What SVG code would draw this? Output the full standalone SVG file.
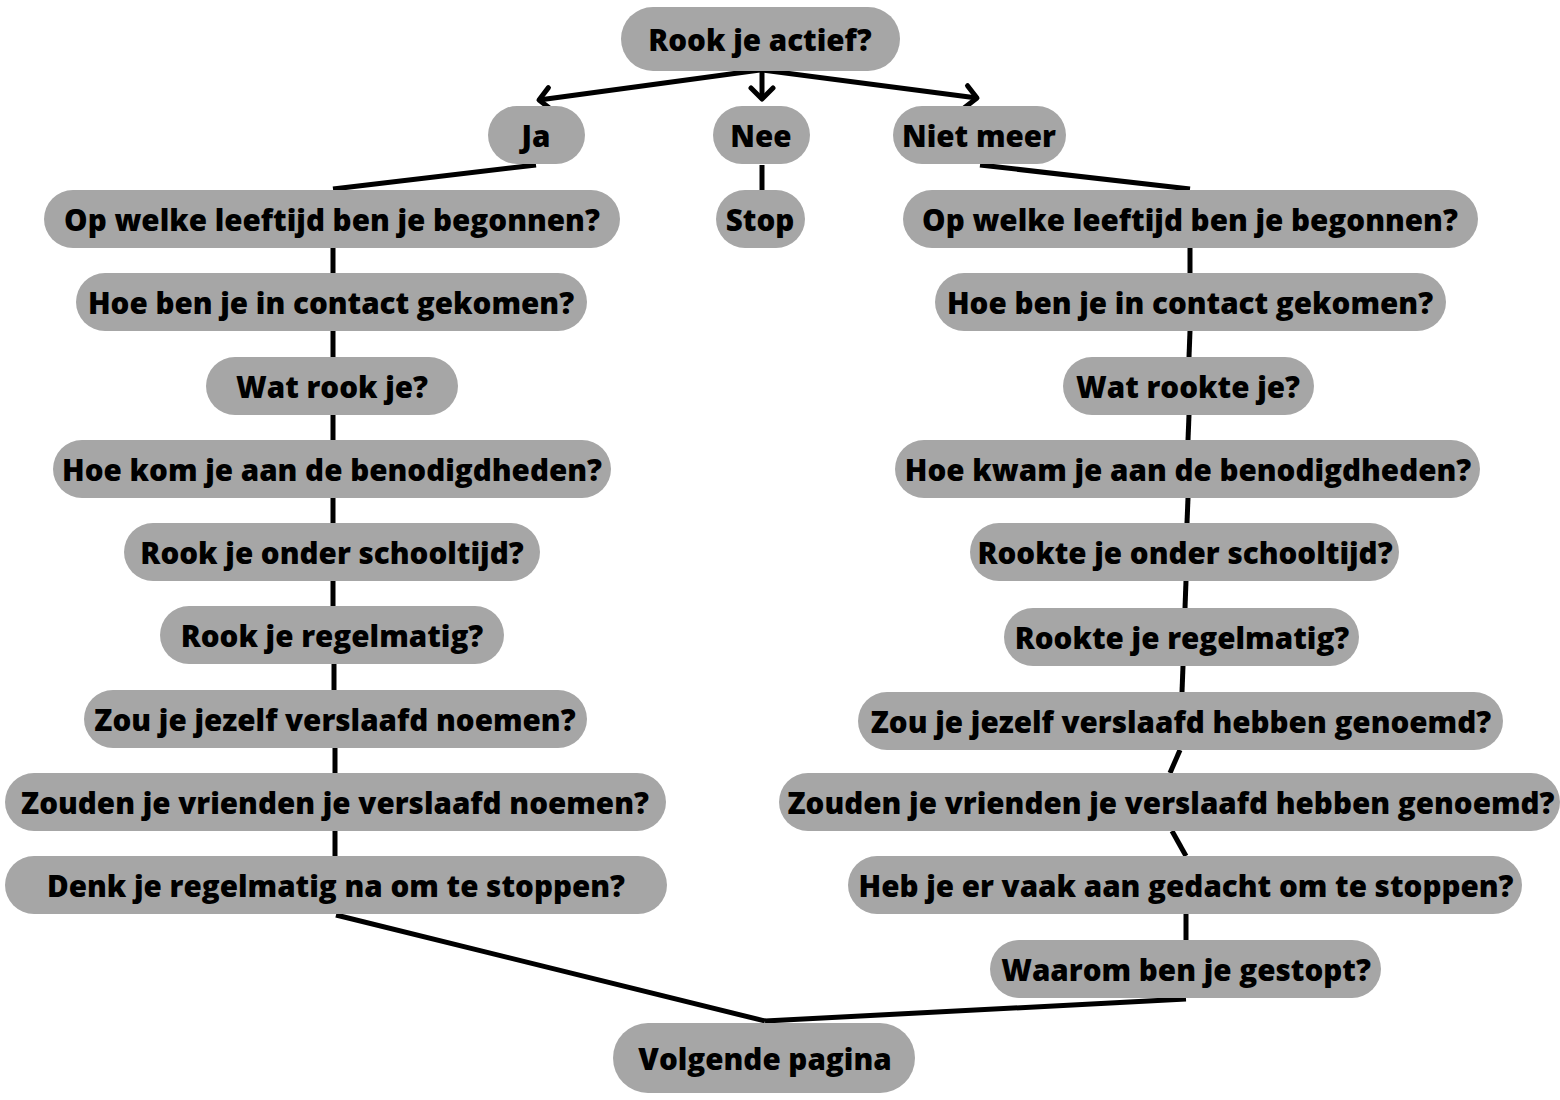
<svg xmlns="http://www.w3.org/2000/svg" width="1560" height="1100" viewBox="0 0 1560 1100">
<style>
.n rect{fill:#a6a6a6}
.n text{font-family:"Open Sans","DejaVu Sans",sans-serif;font-weight:800;font-size:29.6px;fill:#000;text-anchor:middle;dominant-baseline:central}
.c path{fill:none;stroke:#000;stroke-width:5;stroke-linecap:butt}
</style>
<defs>
<marker id="arr" viewBox="-15 -15 30 30" refX="0" refY="0" markerWidth="30" markerHeight="30" markerUnits="userSpaceOnUse" orient="auto"><path d="M-11,-11 L0,0 L-11,11" fill="none" stroke="#000" stroke-width="5" stroke-linecap="round" stroke-linejoin="round"/></marker>
</defs>
<rect width="1560" height="1100" fill="#fff"/>
<g class="c" id="connectors">
<path d="M760,70 L539,100" marker-end="url(#arr)"/>
<path d="M762,70 L762,99" marker-end="url(#arr)"/>
<path d="M762,70 L977,98" marker-end="url(#arr)"/>
<path d="M536,165 L333,189"/>
<path d="M762,165 L762,190"/>
<path d="M980,165 L1190,189"/>
<path d="M333,248 L333,273"/>
<path d="M333,331 L333,357"/>
<path d="M333,415 L333,440"/>
<path d="M333,498 L333,523"/>
<path d="M333,581 L333,606"/>
<path d="M334,664 L334,690"/>
<path d="M335,748 L335,773"/>
<path d="M335,831 L335,856"/>
<path d="M1190,248 L1190,273"/>
<path d="M1190,331 L1189,357"/>
<path d="M1189,415 L1188,440"/>
<path d="M1188,498 L1187,523"/>
<path d="M1186,581 L1185,608"/>
<path d="M1183,666 L1182,692"/>
<path d="M1180,750 L1170,773"/>
<path d="M1172,831 L1186,856"/>
<path d="M1186,914 L1186,940"/>
<path d="M336,915 L765,1021"/>
<path d="M1186,999 L765,1021"/>
</g>
<g class="n" id="n-rook"><rect x="621" y="7" width="279" height="64" rx="32"/><text x="760" y="39">Rook je actief?</text></g>
<g class="n" id="n-ja"><rect x="488" y="106" width="97" height="58" rx="29"/><text x="536" y="135">Ja</text></g>
<g class="n" id="n-nee"><rect x="713" y="106" width="97" height="58" rx="29"/><text x="761" y="135">Nee</text></g>
<g class="n" id="n-nietmeer"><rect x="893" y="106" width="173" height="58" rx="29"/><text x="979" y="135">Niet meer</text></g>
<g class="n" id="n-stop"><rect x="716" y="190" width="89" height="58" rx="29"/><text x="760" y="219">Stop</text></g>

<g class="n" id="l1"><rect x="44" y="190" width="576" height="58" rx="29"/><text x="332" y="219">Op welke leeftijd ben je begonnen?</text></g>
<g class="n" id="l2"><rect x="76" y="273" width="511" height="58" rx="29"/><text x="331" y="302">Hoe ben je in contact gekomen?</text></g>
<g class="n" id="l3"><rect x="206" y="357" width="252" height="58" rx="29"/><text x="332" y="386">Wat rook je?</text></g>
<g class="n" id="l4"><rect x="53" y="440" width="558" height="58" rx="29"/><text x="332" y="469">Hoe kom je aan de benodigdheden?</text></g>
<g class="n" id="l5"><rect x="124" y="523" width="416" height="58" rx="29"/><text x="332" y="552">Rook je onder schooltijd?</text></g>
<g class="n" id="l6"><rect x="160" y="606" width="344" height="58" rx="29"/><text x="332" y="635">Rook je regelmatig?</text></g>
<g class="n" id="l7"><rect x="84" y="690" width="503" height="58" rx="29"/><text x="335" y="719">Zou je jezelf verslaafd noemen?</text></g>
<g class="n" id="l8"><rect x="5" y="773" width="661" height="58" rx="29"/><text x="335" y="802">Zouden je vrienden je verslaafd noemen?</text></g>
<g class="n" id="l9"><rect x="5" y="856" width="662" height="58" rx="29"/><text x="336" y="885">Denk je regelmatig na om te stoppen?</text></g>

<g class="n" id="r1"><rect x="903" y="190" width="575" height="58" rx="29"/><text x="1190" y="219">Op welke leeftijd ben je begonnen?</text></g>
<g class="n" id="r2"><rect x="935" y="273" width="511" height="58" rx="29"/><text x="1190" y="302">Hoe ben je in contact gekomen?</text></g>
<g class="n" id="r3"><rect x="1063" y="357" width="251" height="58" rx="29"/><text x="1188" y="386">Wat rookte je?</text></g>
<g class="n" id="r4"><rect x="895" y="440" width="585" height="58" rx="29"/><text x="1188" y="469">Hoe kwam je aan de benodigdheden?</text></g>
<g class="n" id="r5"><rect x="970" y="523" width="429" height="58" rx="29"/><text x="1185" y="552">Rookte je onder schooltijd?</text></g>
<g class="n" id="r6"><rect x="1004" y="608" width="355" height="58" rx="29"/><text x="1182" y="637">Rookte je regelmatig?</text></g>
<g class="n" id="r7"><rect x="858" y="692" width="645" height="58" rx="29"/><text x="1181" y="721">Zou je jezelf verslaafd hebben genoemd?</text></g>
<g class="n" id="r8"><rect x="779" y="773" width="781" height="58" rx="29"/><text x="1171" y="802">Zouden je vrienden je verslaafd hebben genoemd?</text></g>
<g class="n" id="r9"><rect x="848" y="856" width="674" height="58" rx="29"/><text x="1186" y="885">Heb je er vaak aan gedacht om te stoppen?</text></g>
<g class="n" id="r10"><rect x="990" y="940" width="391" height="58" rx="29"/><text x="1186" y="969">Waarom ben je gestopt?</text></g>

<g class="n" id="n-volgende"><rect x="613" y="1023" width="302" height="70" rx="35"/><text x="765" y="1058">Volgende pagina</text></g>
</svg>
